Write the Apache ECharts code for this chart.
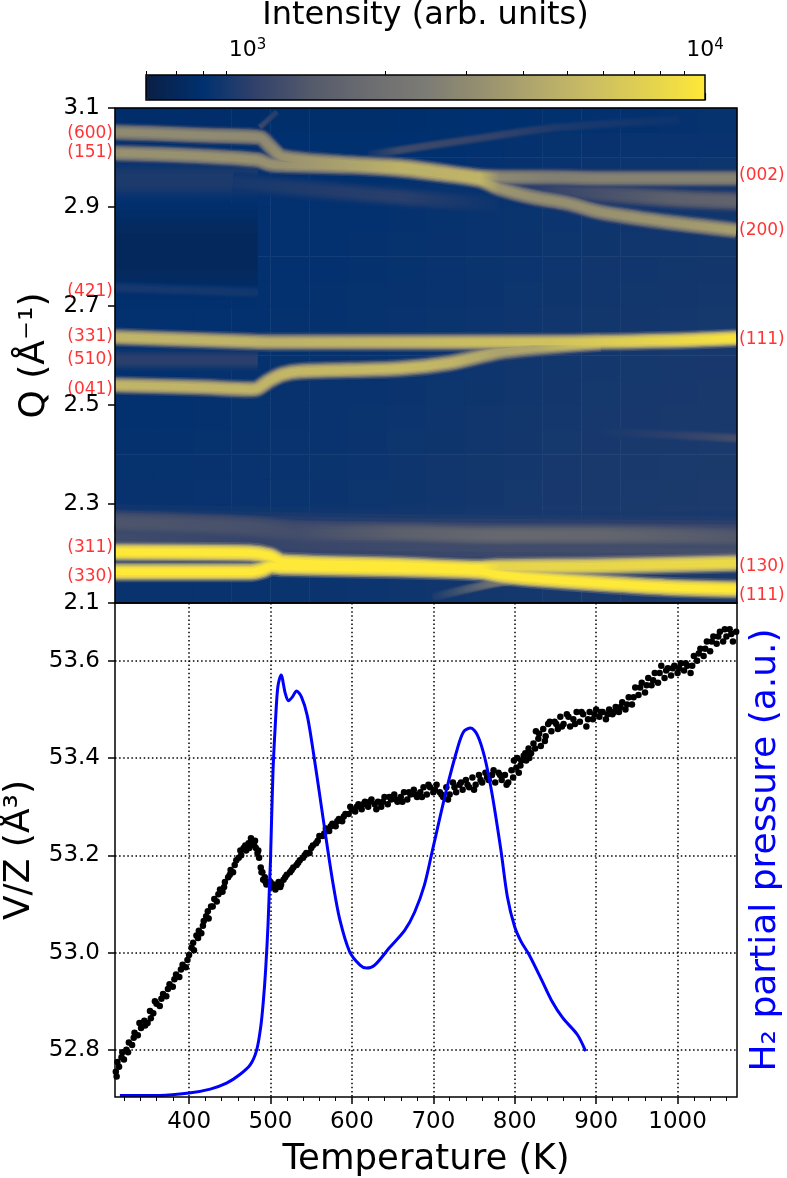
<!DOCTYPE html>
<html>
<head>
<meta charset="utf-8">
<title>Intensity map and V/Z</title>
<script src="https://cdn.jsdelivr.net/npm/echarts@6/dist/echarts.min.js"></script>
<style>
  html, body { margin: 0; background: #fff; }
  #main { width: 787px; height: 1178px; }
</style>
</head>
<body>
<div id="main"></div>
<script>
// colour bar stops, evenly spaced in log intensity
const cmap = ['#0a1f44','#00306f','#33426a','#565b6b','#6c6d70','#7c7b74','#96906f','#b2a86c','#cbbe62','#e3d24f','#fee838'];
const iMin = 600, iMax = 10000;
const barMajor = [1000, 10000];
const barMinor = [600,700,800,900,2000,3000,4000,5000,6000,7000,8000,9000];

// slow background intensity, one row per Q step, bottom row first
const bgT = ['b0','b1','b2','b3','b4','b5','b6','b7','b8','b9','b10','b11','b12','b13','b14','b15'];
const bgQ = ['r0','r1','r2','r3','r4','r5','r6','r7','r8','r9','r10','r11','r12','r13','r14','r15','r16','r17','r18','r19'];
const bgRows = [
  [830,830,830,835,840,845,850,860,870,880,890,900,910,915,920,925],
  [830,830,835,835,840,850,855,865,875,885,895,905,915,920,925,930],
  [830,830,835,840,845,850,860,870,880,890,900,910,920,925,930,935],
  [830,830,835,840,845,850,860,870,880,890,900,910,920,925,930,935],
  [825,825,830,835,840,845,855,865,875,885,895,905,915,920,925,930],
  [820,820,825,830,835,840,850,860,870,880,890,900,910,915,920,925],
  [815,815,820,825,830,835,845,855,865,875,885,895,905,910,915,920],
  [810,810,815,820,825,830,840,850,860,870,880,890,900,905,910,915],
  [810,810,815,820,825,830,835,845,855,865,875,885,895,900,905,910],
  [810,810,815,815,820,825,830,840,850,860,870,880,890,895,900,905],
  [810,810,810,815,815,820,825,835,845,855,865,875,885,890,895,900],
  [810,810,810,810,815,815,820,830,840,850,860,870,880,885,890,895],
  [810,810,810,810,810,815,820,825,835,845,855,865,875,880,885,890],
  [810,810,810,810,810,810,815,820,830,840,850,860,870,875,880,885],
  [810,810,810,810,810,810,815,820,825,835,845,855,865,870,875,880],
  [810,810,810,810,810,810,810,815,820,830,840,850,860,865,870,875],
  [810,810,810,810,810,810,810,815,820,825,835,845,855,860,865,870],
  [810,810,810,810,805,800,800,805,810,815,825,835,845,850,850,855],
  [800,800,800,800,795,790,790,795,800,810,815,820,825,830,830,835],
  [770,770,770,770,780,780,780,785,790,795,800,805,810,810,815,820]
];

// peak ridges: T (K), Q (1/A), intensity
const tDark = [309,484], qDark = [2.810,2.810], iDark = [700,700];
const tBlue = [309,484], qBlue = [2.955,2.955], iBlue = [930,930];
const tHaze = [309,484,659,1072], qHaze = [2.235,2.230,2.225,2.220], iHaze = [1180,1080,1150,1230];
const tGhostA = [487,508], qGhostA = [3.061,3.092], iGhostA = [1150,950];
const tGhostB = [620,659,781,855,1002], qGhostB = [3.005,3.015,3.045,3.061,3.076], iGhostB = [830,1150,1050,930,850];
const tUnder = [454,659,781], qUnder = [2.950,2.920,2.905], iUnder = [900,1000,840];
const tFaintR = [805,855,986,1072], qFaintR = [2.945,2.934,2.918,2.912], iFaintR = [890,1100,1500,1600];
const tUpper = [309,352,413,475,489,499,515,597,659,699,757,781,843,905,1072];
const qUpper = [3.051,3.049,3.045,3.042,3.039,3.023,3.001,2.988,2.982,2.974,2.961,2.960,2.960,2.958,2.958];
const iUpper = [3000,3000,3000,3000,3000,3000,3300,4000,4800,4800,5000,2900,2600,2700,2700];
const tLower = [309,352,413,484,499,515,597,659,699,757,781,822,864,905,986,1072];
const qLower = [3.009,3.007,3.003,2.995,2.987,2.985,2.982,2.976,2.968,2.955,2.938,2.920,2.908,2.890,2.870,2.853];
const iLower = [3300,3300,3300,3300,3300,3300,4000,4800,4800,5000,3400,3200,3200,3300,3500,3900];
const t421 = [309,484], q421 = [2.737,2.727], i421 = [900,880];
const t510 = [309,484], q510 = [2.591,2.591], i510 = [1000,1000];
const t331 = [309,475,499,659,843,986,1072], q331 = [2.637,2.628,2.627,2.627,2.627,2.630,2.635], i331 = [5000,5000,4800,5200,6000,8000,9500];
const t041 = [309,413,475,484,499,515,536,659,720,781,822,905], q041 = [2.540,2.536,2.532,2.534,2.550,2.562,2.568,2.574,2.585,2.607,2.615,2.627], i041 = [5000,5000,5000,5000,5000,5200,5200,5400,5000,4000,4200,6800];
const tLowR = [905,986,1072], qLowR = [2.445,2.440,2.433], iLowR = [900,1000,1200];
const tHump = [309,475,536,659,781,905,1072], qHump = [2.263,2.253,2.243,2.241,2.237,2.237,2.233], iHump = [1300,1250,1200,1500,1700,1650,1350];
const tSide = [699,781,822], qSide = [2.112,2.142,2.150], iSide = [900,2400,5000];
const tTop = [309,475,499,515,659,757,781,905,1072];
const qTop = [2.203,2.201,2.195,2.183,2.176,2.170,2.173,2.175,2.181];
const iTop = [10000,10000,10000,10000,10000,10000,7800,8000,8300];
const tBot = [309,475,489,502,515,659,757,781,822,905,986,1072];
const qBot = [2.163,2.163,2.167,2.175,2.173,2.169,2.164,2.157,2.150,2.140,2.132,2.128];
const iBot = [10000,10000,10000,10000,10000,10000,10000,10000,10000,10000,10000,10000];

// reflection labels beside the map
const hklLeft = ['(600)','(151)','(421)','(331)','(510)','(041)','(311)','(330)'];
const hklLeftQ = [3.049,3.009,2.730,2.639,2.591,2.532,2.211,2.153];
const hklRight = ['(002)','(200)','(111)','(130)','(111)'];
const hklRightQ = [2.963,2.852,2.633,2.173,2.114];

// V/Z points
const volT = [310,312,314,317,320,323,326,330,333,337,341,345,349,352,356,360,364,368,372,376,380,384,388,392,396,400,403,406,409,412,415,418,421,424,427,431,434,438,441,444,448,451,454,458,461,464,467,470,473,476,478,480,482,484,486,488,490,491,493,495,498,501,504,507,510,513,516,520,524,528,532,536,540,544,548,552,556,560,564,568,572,576,580,584,588,592,596,600,604,608,612,616,620,624,628,632,636,640,644,648,652,656,660,664,668,672,676,680,684,688,692,696,700,704,708,712,716,720,724,728,732,736,740,744,748,752,756,760,764,768,772,776,780,784,788,792,796,799,802,805,808,811,814,817,820,823,826,829,832,835,838,841,845,849,853,856,860,864,868,872,876,880,884,888,892,896,900,904,908,912,916,920,924,928,932,936,940,944,948,952,956,960,964,968,972,976,980,984,988,992,996,1000,1004,1008,1012,1016,1020,1024,1028,1032,1036,1040,1044,1048,1052,1056,1060,1064,1068,1072];
const volV = [52.755,52.775,52.765,52.785,52.780,52.800,52.815,52.810,52.835,52.830,52.845,52.860,52.855,52.880,52.875,52.895,52.890,52.915,52.910,52.935,52.930,52.955,52.950,52.975,52.970,52.995,53.010,53.005,53.035,53.045,53.040,53.065,53.075,53.070,53.095,53.110,53.105,53.130,53.125,53.145,53.155,53.170,53.165,53.190,53.195,53.200,53.215,53.210,53.225,53.235,53.230,53.220,53.215,53.205,53.195,53.175,53.165,53.150,53.155,53.140,53.145,53.135,53.140,53.135,53.145,53.140,53.150,53.160,53.165,53.175,53.180,53.190,53.195,53.205,53.205,53.220,53.225,53.240,53.240,53.255,53.250,53.265,53.260,53.275,53.270,53.285,53.285,53.295,53.290,53.305,53.295,53.310,53.300,53.315,53.305,53.310,53.300,53.320,53.305,53.315,53.325,53.310,53.320,53.330,53.315,53.325,53.335,53.320,53.330,53.340,53.325,53.340,53.330,53.345,53.330,53.320,53.340,53.325,53.350,53.330,53.345,53.335,53.355,53.340,53.360,53.345,53.365,53.350,53.370,53.355,53.365,53.350,53.370,53.355,53.365,53.350,53.375,53.395,53.380,53.370,53.395,53.405,53.395,53.420,53.410,53.430,53.455,53.440,53.425,53.460,53.445,53.470,53.455,53.475,53.460,53.485,53.470,53.490,53.465,53.480,53.495,53.475,53.490,53.465,53.495,53.480,53.500,53.485,53.495,53.480,53.500,53.490,53.505,53.495,53.515,53.500,53.525,53.510,53.545,53.530,53.555,53.535,53.565,53.550,53.575,53.555,53.590,53.565,53.585,53.570,53.590,53.575,53.595,53.580,53.590,53.575,53.610,53.600,53.625,53.610,53.640,53.620,53.650,53.635,53.660,53.640,53.650,53.665,53.640,53.660];
const volT2 = [311,318,325,332,339,346,353,358,366,374,382,390,398,405,411,417,423,429,436,443,450,456,463,469,474,477,481,485,489,494,500,506,512,518,526,534,542,550,558,566,574,582,590,598,606,614,622,630,638,646,654,662,670,678,686,694,702,710,718,726,734,742,750,758,766,774,782,790,798,803,807,813,818,825,830,837,843,851,858,866,874,882,890,898,906,914,922,930,938,946,954,962,970,978,986,994,1002,1010,1018,1026,1034,1042,1050,1058,1066];
const volV2 = [52.745,52.795,52.795,52.825,52.855,52.850,52.865,52.900,52.905,52.925,52.945,52.965,52.985,53.020,53.030,53.055,53.085,53.095,53.120,53.135,53.160,53.180,53.210,53.220,53.215,53.225,53.230,53.210,53.165,53.145,53.145,53.130,53.135,53.155,53.170,53.185,53.200,53.215,53.230,53.245,53.260,53.270,53.280,53.300,53.300,53.305,53.310,53.295,53.310,53.320,53.315,53.310,53.330,53.325,53.320,53.345,53.335,53.325,53.315,53.340,53.350,53.345,53.335,53.355,53.360,53.375,53.365,53.345,53.360,53.400,53.385,53.410,53.400,53.420,53.450,53.435,53.475,53.470,53.465,53.485,53.470,53.495,53.480,53.490,53.495,53.490,53.495,53.505,53.510,53.525,53.545,53.550,53.560,53.575,53.580,53.585,53.585,53.595,53.590,53.615,53.625,53.640,53.650,53.665,53.655];

// H2 partial pressure trace, right axis has no scale so 0-100 is arbitrary
const h2T = [315,364,400,426,446,462,475,483,488,491,494,497,499,500,503,506,509,513,518,522,527,532,538,545,552,561,569,577,585,597,610,618,628,646,665,677,689,699,716,729,737,746,754,763,772,783,791,800,808,818,833,845,859,877,887];
const h2P = [0.3,0.3,0.8,1.6,2.8,4.5,6.5,9.5,14.2,19,25.7,35,44,48,65.6,75.7,83,85.4,81.8,80.2,81,82.2,81,77.3,70.5,60.5,51.5,43,36,29.5,26.7,26.1,26.7,30.2,33.8,37.4,42.9,50,62.1,70.2,73.9,74.7,73.3,68.8,61.5,50,40.5,34.4,31.4,28.7,23.7,19.6,16,12.6,9.3];

const xMajor = [400,500,600,700,800,900,1000];
const xMinor = [320,340,360,380,420,440,460,480,520,540,560,580,620,640,660,680,720,740,760,780,820,840,860,880,920,940,960,980,1020,1040,1060];
const vTicks = [52.8,53.0,53.2,53.4,53.6];

const font = 'DejaVu Sans';

function hexRgb(h) {
  return [parseInt(h.substr(1,2),16), parseInt(h.substr(3,2),16), parseInt(h.substr(5,2),16)];
}
// same lookup as the visualMap, for the ridges drawn as lines
function colorOf(v) {
  let s = (Math.log10(v) - Math.log10(iMin)) / (Math.log10(iMax) - Math.log10(iMin)) * (cmap.length - 1);
  s = Math.max(0, Math.min(cmap.length - 1.001, s));
  const k = Math.floor(s), f = s - k;
  const a = hexRgb(cmap[k]), b = hexRgb(cmap[k + 1]);
  return 'rgb(' + [0,1,2].map(function (n) { return Math.round(a[n] + (b[n] - a[n]) * f); }).join(',') + ')';
}

function zip(a, b) {
  return a.map(function (v, n) { return [v, b[n]]; });
}

// t, q, intensity, width px, surrounding intensity
const dimRidges = [
  [tDark,qDark,iDark,72,800],
  [tBlue,qBlue,iBlue,26,810],
  [tHaze,qHaze,iHaze,40,860],
  [tGhostA,qGhostA,iGhostA,5,800],
  [tGhostB,qGhostB,iGhostB,7,820],
  [tUnder,qUnder,iUnder,14,830],
  [tFaintR,qFaintR,iFaintR,15,880],
  [t421,q421,i421,8,800],
  [t510,q510,i510,14,830],
  [tLowR,qLowR,iLowR,8,900],
  [tHump,qHump,iHump,15,1100],
  [tSide,qSide,iSide,7,850]
];
const brightRidges = [
  [tUpper,qUpper,iUpper,12,820],
  [tLower,qLower,iLower,12,820],
  [t041,q041,i041,12,820],
  [t331,q331,i331,12,840],
  [tTop,qTop,iTop,13,950],
  [tBot,qBot,iBot,13,950]
];
// soft peak edge: width factor, how far up the peak, opacity
const edge = [[1.6,0.12,0.5],[1.35,0.28,0.7],[1.15,0.45,0.9],[0.95,0.65,1],[0.75,0.85,1],[0.5,1,1]];

const series = [];

const bgData = [];
bgRows.forEach(function (row, r) {
  row.forEach(function (v, c) { bgData.push([c, r, Math.log10(v)]); });
});
series.push({
  type: 'heatmap', xAxisIndex: 0, yAxisIndex: 0, data: bgData, z: 1,
  itemStyle: { borderWidth: 0 }, emphasis: { disabled: true }
});

function ridgeSeries(r, l) {
  const t = r[0], first = t[0], last = t[t.length - 1], base = r[4];
  const stops = t.map(function (v, n) {
    return { offset: (v - first) / (last - first), color: colorOf(base + (r[2][n] - base) * l[1]) };
  });
  return {
    type: 'line', xAxisIndex: 1, yAxisIndex: 1, data: zip(t, r[1]), z: 2,
    symbol: 'none', smooth: 0.3, silent: true,
    lineStyle: {
      width: r[3] * l[0], opacity: l[2], cap: 'butt', join: 'round',
      color: new echarts.graphic.LinearGradient(0, 0, 1, 0, stops)
    }
  };
}

dimRidges.forEach(function (r) {
  edge.forEach(function (l) { series.push(ridgeSeries(r, l)); });
});
// bright ones: outer edges of all first, then inner, so crossing peaks keep their cores
edge.forEach(function (l) {
  brightRidges.forEach(function (r) { series.push(ridgeSeries(r, l)); });
});

function hklSeries(names, qs, t, pos) {
  return {
    type: 'scatter', xAxisIndex: 1, yAxisIndex: 1, symbolSize: 0, clip: false, z: 7, silent: true,
    data: qs.map(function (q, n) { return { value: [t, q], name: names[n] }; }),
    label: {
      show: true, position: pos, distance: 2, color: '#ff0000',
      fontFamily: font, fontSize: 17, formatter: '{b}'
    }
  };
}
series.push(hklSeries(hklLeft, hklLeftQ, 309, 'left'));
series.push(hklSeries(hklRight, hklRightQ, 1073, 'right'));

series.push({
  type: 'scatter', xAxisIndex: 2, yAxisIndex: 2, data: zip(volT, volV), z: 3,
  symbolSize: 6.5, itemStyle: { color: '#000', opacity: 1 }, silent: true
});
series.push({
  type: 'scatter', xAxisIndex: 2, yAxisIndex: 2, data: zip(volT2, volV2), z: 3,
  symbolSize: 6.5, itemStyle: { color: '#000', opacity: 1 }, silent: true
});
series.push({
  type: 'line', xAxisIndex: 2, yAxisIndex: 3, data: zip(h2T, h2P), z: 4,
  symbol: 'none', smooth: 0.3, silent: true,
  lineStyle: { color: '#0000ff', width: 3 }
});

const frame = { show: true, backgroundColor: 'transparent', borderColor: '#000', borderWidth: 1.5, z: 5, outerBoundsMode: 'none' };
const tickLine = { color: '#000', width: 1.5 };
const labelStyle = { color: '#000', fontFamily: font, fontSize: 23 };
const dotted = { show: true, lineStyle: { color: '#000', width: 1.5, type: [1.5, 2.6] } };

const option = {
  animation: false,
  backgroundColor: '#fff',
  textStyle: { fontFamily: font },
  grid: [
    Object.assign({ left: 115, right: 50, top: 108, height: 495 }, frame),
    Object.assign({ left: 115, right: 50, top: 603, height: 494 }, frame),
    Object.assign({ left: 146, width: 559, top: 75, height: 25 }, frame)
  ],
  visualMap: {
    type: 'continuous', seriesIndex: 0, dimension: 2, orient: 'horizontal',
    min: Math.log10(iMin), max: Math.log10(iMax), calculable: false, realtime: false,
    left: 146, top: 75, padding: 0, itemWidth: 25, itemHeight: 559, text: null,
    inRange: { color: cmap }, hoverLink: false
  },
  xAxis: [
    { type: 'category', gridIndex: 0, data: bgT, show: false },
    { type: 'value', gridIndex: 0, min: 309, max: 1073, show: false },
    {
      type: 'value', gridIndex: 1, min: 309, max: 1073, position: 'bottom',
      name: 'Temperature (K)', nameLocation: 'middle', nameGap: 45,
      nameTextStyle: { color: '#000', fontFamily: font, fontSize: 35.5 },
      axisLine: { show: false },
      axisTick: { show: true, customValues: xMajor, length: 7, lineStyle: tickLine },
      axisLabel: Object.assign({
        customValues: xMajor, margin: 14,
        formatter: function (v) { return String(v); }
      }, labelStyle),
      splitLine: dotted
    },
    {
      type: 'value', gridIndex: 1, min: 309, max: 1073, position: 'bottom',
      axisLine: { show: false },
      axisTick: { show: true, customValues: xMinor, length: 4, lineStyle: { color: '#000', width: 1 } },
      axisLabel: { show: false }, splitLine: { show: false }
    },
    {
      type: 'log', gridIndex: 2, min: iMin, max: iMax, position: 'top',
      name: 'Intensity (arb. units)', nameLocation: 'middle', nameGap: 43,
      nameTextStyle: { color: '#000', fontFamily: font, fontSize: 32 },
      axisLine: { show: false },
      axisTick: { show: true, customValues: barMajor, length: 7, lineStyle: { color: '#000', width: 1.2 } },
      axisLabel: Object.assign({
        customValues: barMajor, margin: 13,
        formatter: function (v) { return v < 5000 ? '{m|10}{e|3}' : '{m|10}{e|4}'; },
        rich: {
          m: { fontFamily: font, fontSize: 22, color: '#000' },
          e: { fontFamily: font, fontSize: 15, color: '#000', padding: [0, 0, 9, 0] }
        }
      }, labelStyle),
      splitLine: { show: false }
    },
    {
      type: 'log', gridIndex: 2, min: iMin, max: iMax, position: 'top',
      axisLine: { show: false },
      axisTick: { show: true, customValues: barMinor, length: 4, lineStyle: { color: '#000', width: 1 } },
      axisLabel: { show: false }, splitLine: { show: false }
    }
  ],
  yAxis: [
    { type: 'category', gridIndex: 0, data: bgQ, show: false },
    {
      type: 'value', gridIndex: 0, min: 2.1, max: 3.1, interval: 0.2, position: 'left',
      name: 'Q (Å⁻¹)', nameLocation: 'middle', nameGap: 58,
      nameTextStyle: { color: '#000', fontFamily: font, fontSize: 36 },
      axisLine: { show: false },
      axisTick: { show: true, length: 7, lineStyle: tickLine },
      axisLabel: Object.assign({ margin: 15, formatter: function (v) { return v.toFixed(1); } }, labelStyle),
      splitLine: { show: false }
    },
    {
      type: 'value', gridIndex: 1, min: 52.703, max: 53.719, position: 'left',
      name: 'V/Z (Å³)', nameLocation: 'middle', nameGap: 69,
      nameTextStyle: { color: '#000', fontFamily: font, fontSize: 36 },
      axisLine: { show: false },
      axisTick: { show: true, customValues: vTicks, length: 7, lineStyle: tickLine },
      axisLabel: Object.assign({ customValues: vTicks, margin: 15, formatter: function (v) { return v.toFixed(1); } }, labelStyle),
      splitLine: dotted
    },
    {
      type: 'value', gridIndex: 1, min: 0, max: 100, position: 'right',
      name: 'H₂ partial pressure (a.u.)', nameLocation: 'middle', nameRotate: 90, nameGap: 11,
      nameTextStyle: { color: '#0000ff', fontFamily: font, fontSize: 36 },
      axisLine: { show: false }, axisTick: { show: false }, axisLabel: { show: false }, splitLine: { show: false }
    },
    { type: 'value', gridIndex: 2, min: 0, max: 1, show: false }
  ],
  series: series
};

const myChart = echarts.init(document.getElementById('main'), null, { renderer: 'canvas' });
myChart.setOption(option);
</script>
</body>
</html>
